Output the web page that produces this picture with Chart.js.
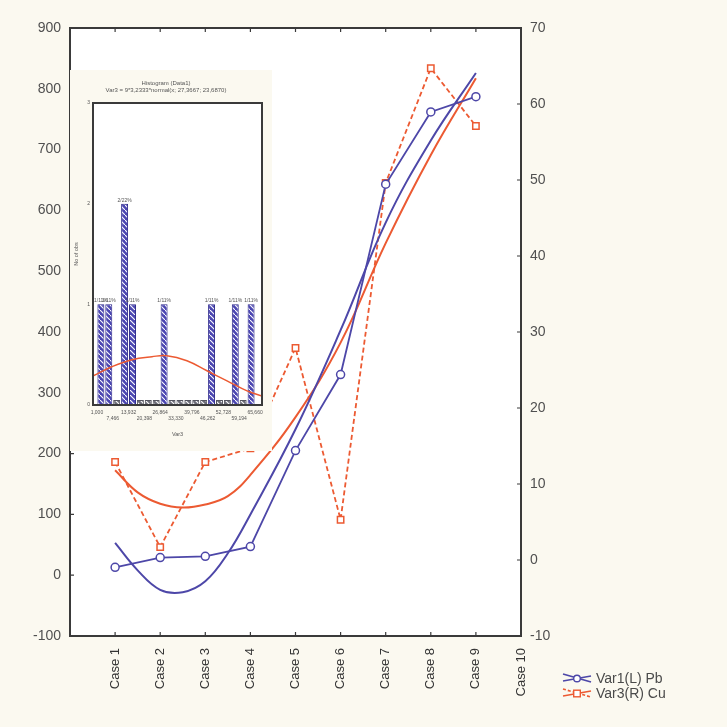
<!DOCTYPE html>
<html>
<head>
<meta charset="utf-8">
<script src="https://cdn.jsdelivr.net/npm/chart.js@4.4.1/dist/chart.umd.min.js"></script>
<style>
  html, body { margin: 0; padding: 0; background: #fbf9f0; }
  #wrap { position: relative; width: 727px; height: 727px; overflow: hidden; }
  #main { position: absolute; left: 0; top: 0; }
  #insetBox { position: absolute; left: 70px; top: 70px; width: 202px; height: 381px; background: #fbf9f0; }
  #inset { position: absolute; left: 0; top: 0; }
  #legend { position: absolute; left: 562px; top: 670px; font: 14px "Liberation Sans", Arial, sans-serif; color: #4a4a4a; }
  .row { display: flex; align-items: center; height: 15px; white-space: nowrap; }
  .row svg { margin-right: 4px; }
</style>
</head>
<body>
<div id="wrap">
  <canvas id="main" width="727" height="727"></canvas>
  <div id="insetBox"><canvas id="inset" width="202" height="378"></canvas></div>
  <div id="legend"></div>
</div>
<script>
const categories = ['Case 1', 'Case 2', 'Case 3', 'Case 4', 'Case 5', 'Case 6', 'Case 7', 'Case 8', 'Case 9', 'Case 10'];
const caseTicks = [1, 2, 3, 4, 5, 6, 7, 8, 9, 10];
const seriesNames = ['Var1(L) Pb', 'Var3(R) Cu'];

// measured values
const pbValues = [13, 29, 31, 47, 205, 330, 643, 762, 787];
const cuValues = [12.9, 1.7, 12.9, 14.7, 27.9, 5.3, 49.6, 64.7, 57.1];

// fitted curves
const fitX = [1, 1.5, 2, 2.5, 3, 3.5, 4, 5, 6, 7, 8, 9];
const pbFit = [53, 8, -24, -28, -10, 36, 100, 240, 403, 580, 715, 826];
const cuFit = [11.8, 8.9, 7.4, 6.9, 7.3, 8.4, 11.2, 18.8, 28.6, 41.7, 53.3, 63.4];

// inset histogram (Var3)
const histCenters = [2.62, 5.85, 9.08, 12.32, 15.55, 18.78, 22.01, 25.25, 28.48, 31.71,
                     34.95, 38.18, 41.41, 44.64, 47.88, 51.11, 54.34, 57.58, 60.81, 64.04];
const histCounts = [1, 1, 0, 2, 1, 0, 0, 0, 1, 0, 0, 0, 0, 0, 1, 0, 0, 1, 0, 1];
const histTicks = [1, 7.466, 13.932, 20.398, 26.864, 33.33, 39.796, 46.262, 52.728, 59.194, 65.66];
const histTickLabels = ['1,000', '7,466', '13,932', '20,398', '26,864', '33,330', '39,796', '46,262', '52,728', '59,194', '65,660'];
const normX = [-0.5, 7.1, 15.3, 23.5, 29.6, 37.8, 46.0, 54.2, 62.4, 68.5];
const normY = [0.29, 0.38, 0.45, 0.48, 0.49, 0.44, 0.34, 0.24, 0.14, 0.09];

const BLUE = '#4d47a8';
const RED = '#ec5a32';
const FONT = '"Liberation Sans", Arial, sans-serif';

Chart.defaults.font.family = FONT;

const frameTicks = {
  id: 'frameTicks',
  beforeDraw(chart) {
    const { ctx, chartArea: a } = chart;
    ctx.save();
    ctx.fillStyle = '#ffffff';
    ctx.fillRect(a.left, a.top, a.right - a.left, a.bottom - a.top);
    ctx.restore();
  },
  afterDraw(chart) {
    const { ctx, chartArea: a, scales } = chart;
    ctx.save();
    ctx.strokeStyle = '#3a3a3a';
    ctx.lineWidth = 1.2;
    ctx.beginPath();
    scales.yL.ticks.forEach(t => {
      const y = scales.yL.getPixelForValue(t.value);
      ctx.moveTo(a.left, y); ctx.lineTo(a.left + 4, y);
    });
    scales.yR.ticks.forEach(t => {
      const y = scales.yR.getPixelForValue(t.value);
      ctx.moveTo(a.right - 4, y); ctx.lineTo(a.right, y);
    });
    scales.x.ticks.forEach(t => {
      const x = scales.x.getPixelForValue(t.value);
      ctx.moveTo(x, a.bottom); ctx.lineTo(x, a.bottom - 4);
      ctx.moveTo(x, a.top); ctx.lineTo(x, a.top + 4);
    });
    ctx.stroke();
    ctx.lineWidth = 2;
    ctx.strokeRect(a.left, a.top, a.right - a.left, a.bottom - a.top);
    ctx.restore();
  }
};

new Chart(document.getElementById('main'), {
  type: 'line',
  data: {
    datasets: [
      {
        label: seriesNames[0],
        data: pbValues.map((v, i) => ({ x: caseTicks[i], y: v })),
        yAxisID: 'yL',
        borderColor: BLUE, borderWidth: 1.8, tension: 0,
        pointRadius: 4, pointBackgroundColor: '#fff', pointBorderColor: BLUE, pointBorderWidth: 1.5
      },
      {
        label: 'Pb fit',
        data: fitX.map((x, i) => ({ x: x, y: pbFit[i] })),
        yAxisID: 'yL',
        borderColor: BLUE, borderWidth: 2, pointRadius: 0, tension: 0.4
      },
      {
        label: seriesNames[1],
        data: cuValues.map((v, i) => ({ x: caseTicks[i], y: v })),
        yAxisID: 'yR',
        borderColor: RED, borderWidth: 1.8, borderDash: [5, 3], tension: 0,
        pointStyle: 'rect', pointRadius: 4.5, pointBackgroundColor: '#fff', pointBorderColor: RED, pointBorderWidth: 1.5
      },
      {
        label: 'Cu fit',
        data: fitX.map((x, i) => ({ x: x, y: cuFit[i] })),
        yAxisID: 'yR',
        borderColor: RED, borderWidth: 2, pointRadius: 0, tension: 0.4
      }
    ]
  },
  options: {
    responsive: false,
    animation: false,
    layout: { padding: { top: 28, left: 0, right: 0, bottom: 0 } },
    plugins: { legend: { display: false }, tooltip: { enabled: false } },
    scales: {
      x: {
        type: 'linear', min: 0, max: 10,
        grid: { display: false, drawTicks: false }, border: { display: false },
        afterBuildTicks: s => { s.ticks = caseTicks.map(v => ({ value: v })); },
        afterFit: s => { s.height = 91; },
        ticks: {
          autoSkip: false, minRotation: 90, maxRotation: 90, padding: 12,
          color: '#333', font: { size: 13 },
          callback: (v, i) => categories[i]
        }
      },
      yL: {
        type: 'linear', position: 'left', min: -100, max: 900,
        grid: { display: false, drawTicks: false }, border: { display: false },
        afterFit: s => { s.width = 70; },
        ticks: { stepSize: 100, padding: 9, color: '#505050', font: { size: 14 } }
      },
      yR: {
        type: 'linear', position: 'right', min: -10, max: 70,
        grid: { display: false, drawTicks: false }, border: { display: false },
        afterFit: s => { s.width = 206; },
        ticks: { stepSize: 10, padding: 9, color: '#505050', font: { size: 14 } }
      }
    }
  },
  plugins: [frameTicks]
});

// hatch patterns for the histogram bars
function hatch(fill) {
  const c = document.createElement('canvas');
  c.width = 5; c.height = 5;
  const g = c.getContext('2d');
  g.fillStyle = fill;
  g.fillRect(0, 0, 5, 5);
  g.strokeStyle = '#ffffff';
  g.lineWidth = 1.1;
  g.beginPath();
  g.moveTo(0, 0); g.lineTo(5, 5);
  g.stroke();
  return g.createPattern(c, 'repeat');
}
const bluePat = hatch('#4b46b2');
const greyPat = hatch('#6d6d78');

const insetFrame = {
  id: 'insetFrame',
  beforeDraw(chart) {
    const { ctx, chartArea: a } = chart;
    ctx.save();
    ctx.fillStyle = '#ffffff';
    ctx.fillRect(a.left, a.top, a.right - a.left, a.bottom - a.top);
    ctx.restore();
  },
  afterDatasetsDraw(chart) {
    const { ctx } = chart;
    const meta = chart.getDatasetMeta(1);
    const total = histCounts.reduce((s, v) => s + v, 0);
    ctx.save();
    ctx.fillStyle = '#555';
    ctx.font = '5px ' + FONT;
    ctx.textAlign = 'center';
    ctx.textBaseline = 'bottom';
    meta.data.forEach((bar, i) => {
      if (histCounts[i] > 0) {
        ctx.fillText(histCounts[i] + '/' + Math.round(histCounts[i] / total * 100) + '%', bar.x, bar.y - 1);
      }
    });
    ctx.restore();
  },
  afterDraw(chart) {
    const { ctx, chartArea: a } = chart;
    ctx.save();
    ctx.strokeStyle = '#3a3a3a';
    ctx.lineWidth = 2;
    ctx.strokeRect(a.left, a.top, a.right - a.left, a.bottom - a.top);
    ctx.restore();
  }
};

new Chart(document.getElementById('inset'), {
  type: 'bar',
  data: {
    datasets: [
      {
        type: 'line',
        data: normX.map((x, i) => ({ x: x, y: normY[i] })),
        borderColor: RED, borderWidth: 1.5, pointRadius: 0, tension: 0.4, order: 0
      },
      {
        type: 'bar',
        data: histCenters.map((x, i) => ({ x: x, y: histCounts[i] })),
        backgroundColor: c => (c.raw && c.raw.y === 0 ? greyPat : bluePat),
        borderColor: c => (c.raw && c.raw.y === 0 ? '#55555f' : '#2e2a8c'),
        borderWidth: 1,
        barPercentage: 0.88, categoryPercentage: 1, minBarLength: 5,
        order: 1
      }
    ]
  },
  options: {
    responsive: false,
    animation: false,
    layout: { padding: { left: 0, right: 10, top: 0, bottom: 0 } },
    plugins: {
      legend: { display: false },
      tooltip: { enabled: false },
      title: {
        display: true,
        text: ['Histogram (Data1)', 'Var3 = 9*3,2333*normal(x; 27,3667; 23,6870)'],
        color: '#555',
        font: { size: 6, weight: 'normal', lineHeight: 1.2 },
        padding: { top: 10, bottom: 8.6 }
      }
    },
    scales: {
      x: {
        type: 'linear', min: -0.6, max: 68.5, offset: false,
        grid: { display: false, drawTicks: false }, border: { display: false },
        afterBuildTicks: s => { s.ticks = histTicks.map(v => ({ value: v })); },
        afterFit: s => { s.height = 43; },
        ticks: {
          autoSkip: false, maxRotation: 0, minRotation: 0, padding: 5,
          color: '#555', font: { size: 5 },
          callback: (v, i) => (i % 2 === 0 ? histTickLabels[i] : ['', histTickLabels[i]])
        },
        title: { display: true, text: 'Var3', color: '#555', font: { size: 5.5 }, padding: { top: 3, bottom: 10 } }
      },
      y: {
        min: 0, max: 3,
        grid: { display: false, drawTicks: false }, border: { display: false },
        afterFit: s => { s.width = 23; },
        ticks: { stepSize: 1, padding: 3, color: '#555', font: { size: 5 } },
        title: { display: true, text: 'No of obs', color: '#555', font: { size: 5.5 }, padding: { top: 3, bottom: 0 } }
      }
    }
  },
  plugins: [insetFrame]
});

// legend
const legendIcons = [
  `<svg width="30" height="12"><line x1="1" y1="2" x2="29" y2="10" stroke="${BLUE}" stroke-width="1.6"/>
   <line x1="1" y1="9" x2="29" y2="4" stroke="${BLUE}" stroke-width="1.6"/>
   <circle cx="15" cy="6.5" r="3.3" fill="#fff" stroke="${BLUE}" stroke-width="1.4"/></svg>`,
  `<svg width="30" height="12"><line x1="1" y1="2" x2="29" y2="10" stroke="${RED}" stroke-width="1.6" stroke-dasharray="3,2"/>
   <line x1="1" y1="9" x2="29" y2="4" stroke="${RED}" stroke-width="1.6"/>
   <rect x="11.7" y="3.2" width="6.6" height="6.6" fill="#fff" stroke="${RED}" stroke-width="1.4"/></svg>`
];
document.getElementById('legend').innerHTML = seriesNames
  .map((name, i) => `<div class="row">${legendIcons[i]}<span>${name}</span></div>`)
  .join('');
</script>
</body>
</html>
